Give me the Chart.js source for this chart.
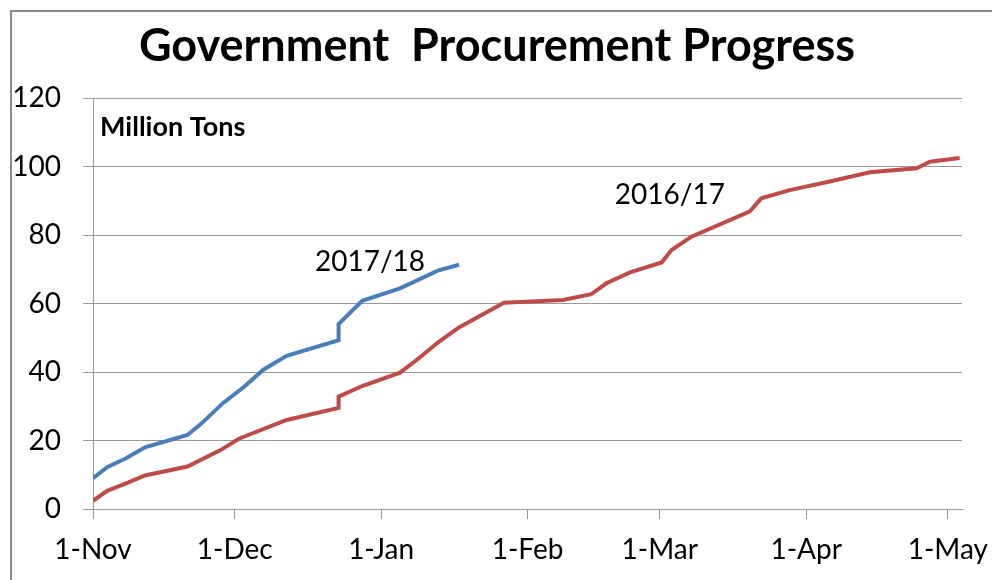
<!DOCTYPE html>
<html>
<head>
<meta charset="utf-8">
<script src="https://cdn.jsdelivr.net/npm/chart.js@4"></script>
<style>
  body { margin: 0; background: #fff; }
  #wrap { width: 992px; height: 580px; }
</style>
</head>
<body>
<div id="wrap"><canvas id="chart" width="992" height="580"></canvas></div>
<script>
// days counted from 1-Nov of each season
var monthDays = [0, 30, 61, 92, 120, 151, 181];
var monthLabels = ["1-Nov", "1-Dec", "1-Jan", "1-Feb", "1-Mar", "1-Apr", "1-May"];

var days1718 = [0, 3, 7, 11, 20, 23, 27.5, 32, 36, 41, 52, 52, 57, 65, 73, 77.5];
var tons1718 = [9.0, 12.2, 14.8, 18.0, 21.6, 25.0, 30.9, 35.7, 40.6, 44.7, 49.3, 54.0, 60.8, 64.4, 69.6, 71.3];

var days1617 = [0, 3, 7, 11, 20, 27, 31, 41, 52, 52, 57, 65, 69, 73, 77.5, 87, 99.5, 105.5, 108.7, 113.7, 120.4, 122.5, 126.7, 139, 141.5, 147.5, 156, 164.5, 174.4, 177.2, 183.5];
var tons1617 = [2.4, 5.3, 7.5, 9.8, 12.4, 17.2, 20.6, 26.0, 29.5, 32.8, 35.9, 39.8, 44.0, 48.6, 53.0, 60.2, 61.0, 62.7, 65.9, 69.1, 72.0, 75.6, 79.5, 86.8, 90.7, 93.1, 95.6, 98.3, 99.5, 101.4, 102.5];

function toPoints(xs, ys) {
    return xs.map(function (x, i) { return { x: x, y: ys[i] }; });
}

var FONT = "Lato, 'Open Sans', sans-serif";

var textPlugin = {
    id: 'texts',
    beforeDraw: function (chart) {
        var c = chart.ctx;
        c.save();
        c.fillStyle = '#fff';
        c.fillRect(0, 0, chart.width, chart.height);
        c.strokeStyle = '#8c8c8c';
        c.lineWidth = 2;
        c.strokeRect(11, 11, 1000, 600);
        c.restore();
    },
    afterDraw: function (chart) {
        var c = chart.ctx;
        var xs = chart.scales.x, ys = chart.scales.y;
        c.save();
        c.fillStyle = '#000';
        c.textBaseline = 'middle';
        c.textAlign = 'center';
        c.font = 'bold 45px ' + FONT;
        c.fillText('Government  Procurement Progress', 497, 46);
        c.textAlign = 'left';
        c.font = 'bold 27px ' + FONT;
        c.fillText('Million Tons', 100, 127);
        c.font = '28px ' + FONT;
        c.fillText('2017/18', xs.getPixelForValue(47), ys.getPixelForValue(72));
        c.fillText('2016/17', xs.getPixelForValue(110.5), ys.getPixelForValue(91.7));
        c.restore();
    }
};

new Chart(document.getElementById('chart'), {
    type: 'line',
    data: {
        datasets: [
            {
                label: '2017/18',
                data: toPoints(days1718, tons1718),
                borderColor: '#4a7ebb',
                borderWidth: 4,
                pointRadius: 0,
                tension: 0
            },
            {
                label: '2016/17',
                data: toPoints(days1617, tons1617),
                borderColor: '#be4b48',
                borderWidth: 4,
                pointRadius: 0,
                tension: 0
            }
        ]
    },
    options: {
        responsive: false,
        animation: false,
        layout: { padding: { left: 0, right: 30, top: 98, bottom: 0 } },
        plugins: {
            legend: { display: false },
            tooltip: { enabled: false }
        },
        scales: {
            x: {
                type: 'linear',
                min: 0,
                max: 184,
                afterBuildTicks: function (scale) {
                    scale.ticks = monthDays.map(function (d) { return { value: d }; });
                },
                afterFit: function (scale) {
                    scale.height = 71;
                    scale.paddingLeft = 0;
                    scale.paddingRight = 0;
                },
                ticks: {
                    autoSkip: false,
                    maxRotation: 0,
                    padding: 14,
                    color: '#000',
                    font: { family: FONT, size: 28 },
                    callback: function (v, i) { return monthLabels[i]; }
                },
                grid: { drawOnChartArea: false, drawTicks: true, tickLength: 10, color: '#999' },
                border: { color: '#999' }
            },
            y: {
                min: 0,
                max: 120,
                afterFit: function (scale) { scale.width = 93; },
                ticks: {
                    stepSize: 20,
                    padding: 22,
                    color: '#000',
                    font: { family: FONT, size: 28 }
                },
                grid: { color: '#999', tickLength: 10 },
                border: { color: '#999' }
            }
        }
    },
    plugins: [textPlugin]
});
</script>
</body>
</html>
